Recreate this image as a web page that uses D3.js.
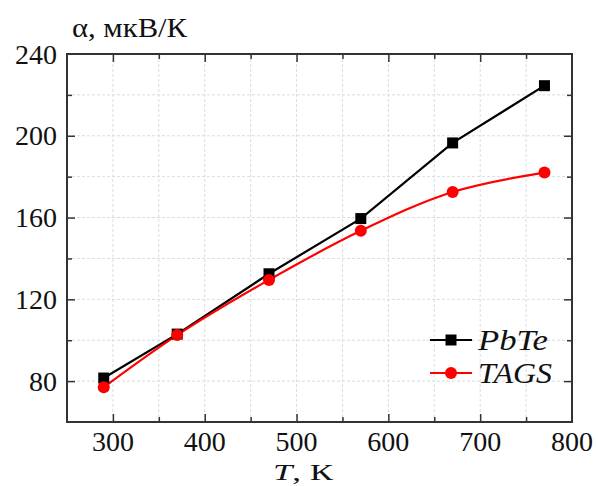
<!DOCTYPE html>
<html><head><meta charset="utf-8">
<script src="https://cdn.jsdelivr.net/npm/d3@7"></script>
<style>body{margin:0;background:#fff}svg{display:block}
text{font-family:"Liberation Serif","Times New Roman","DejaVu Serif",serif}</style>
</head><body>
<svg id="c" width="598" height="486"></svg>
<script>
const temps = [290, 370, 470, 570, 670, 770];
const pbte = [81.5, 103, 132.5, 159.5, 196.5, 224.5];
const tags = [77, 102.5, 129.5, 153.5, 172.5, 182];
const xTicks = [300, 400, 500, 600, 700, 800];
const yTicks = [80, 120, 160, 200, 240];
const seriesNames = ["PbTe", "TAGS"];

const svg = d3.select("#c");
const L = 67, R = 572, T = 54, B = 422;
const x = d3.scaleLinear().domain([250, 800]).range([L, R]);
const y = d3.scaleLinear().domain([60, 240]).range([B, T]);

// grid
const gx = d3.range(300, 800, 50), gy = d3.range(80, 240, 20);
svg.append("g").selectAll("line").data(gx).join("line")
  .attr("x1", d => x(d)).attr("x2", d => x(d)).attr("y1", T).attr("y2", B)
  .attr("stroke", "#dcdcdc").attr("stroke-dasharray", "3,2").attr("stroke-width", 1);
svg.append("g").selectAll("line").data(gy).join("line")
  .attr("y1", d => y(d)).attr("y2", d => y(d)).attr("x1", L).attr("x2", R)
  .attr("stroke", "#dcdcdc").attr("stroke-dasharray", "3,2").attr("stroke-width", 1);

// axes with inward ticks
function ax(axisFn, scale, vals, len, tx, ty) {
  const g = svg.append("g").attr("transform", `translate(${tx},${ty})`)
    .call(axisFn(scale).tickValues(vals).tickSize(len).tickFormat(""));
  g.select(".domain").remove();
  g.selectAll("line").attr("stroke", "#333").attr("stroke-width", 1.5);
}
const xMajor = xTicks.filter(d => d < 800), xMinor = d3.range(350, 800, 100);
const yMajor = yTicks.filter(d => d < 240), yMinor = d3.range(100, 240, 40);
ax(d3.axisTop, x, xMajor, 8, 0, B);
ax(d3.axisTop, x, xMinor, 5, 0, B);
ax(d3.axisBottom, x, xMajor, 8, 0, T);
ax(d3.axisBottom, x, xMinor, 5, 0, T);
ax(d3.axisRight, y, yMajor, 8, L, 0);
ax(d3.axisRight, y, yMinor, 5, L, 0);
ax(d3.axisLeft, y, yMajor, 8, R, 0);
ax(d3.axisLeft, y, yMinor, 5, R, 0);

svg.append("rect").attr("x", L).attr("y", T).attr("width", R - L).attr("height", B - T)
  .attr("fill", "none").attr("stroke", "#333").attr("stroke-width", 2);

// tick labels
svg.append("g").selectAll("text").data(xTicks).join("text")
  .attr("x", d => x(d)).attr("y", 451).attr("text-anchor", "middle")
  .attr("font-size", 28).attr("fill", "#111").text(d => d);
svg.append("g").selectAll("text").data(yTicks).join("text")
  .attr("x", 57).attr("y", d => y(d) + 9.5).attr("text-anchor", "end")
  .attr("font-size", 28).attr("fill", "#111").text(d => d);

// titles
svg.append("text").attr("x", 72).attr("y", 37)
  .attr("font-size", 28).attr("textLength", 115).attr("lengthAdjust", "spacingAndGlyphs")
  .attr("fill", "#111").text("α, мкВ/К");
const xl = svg.append("text").attr("x", 303).attr("y", 480).attr("text-anchor", "middle")
  .attr("font-size", 24).attr("textLength", 60).attr("lengthAdjust", "spacingAndGlyphs")
  .attr("fill", "#111");
xl.append("tspan").attr("font-style", "italic").text("T");
xl.append("tspan").text(", К");

// lines
const lineP = d3.line().x(d => x(d[0])).y(d => y(d[1]));
const lineT = d3.line().x(d => x(d[0])).y(d => y(d[1])).curve(d3.curveCatmullRom.alpha(0.5));
const dP = temps.map((t, i) => [t, pbte[i]]);
const dT = temps.map((t, i) => [t, tags[i]]);
svg.append("path").attr("d", lineP(dP)).attr("fill", "none").attr("stroke", "#000").attr("stroke-width", 2.2);
svg.append("path").attr("d", lineT(dT)).attr("fill", "none").attr("stroke", "#f00").attr("stroke-width", 2.2);
svg.append("g").selectAll("rect").data(dP).join("rect")
  .attr("x", d => x(d[0]) - 5.5).attr("y", d => y(d[1]) - 5.5).attr("width", 11).attr("height", 11).attr("fill", "#000");
svg.append("g").selectAll("circle").data(dT).join("circle")
  .attr("cx", d => x(d[0])).attr("cy", d => y(d[1])).attr("r", 6).attr("fill", "#f00");

// legend
const leg = [{n: seriesNames[0], c: "#000", s: "sq", y: 340, w: 70}, {n: seriesNames[1], c: "#f00", s: "ci", y: 373, w: 74}];
leg.forEach(l => {
  svg.append("line").attr("x1", 430).attr("x2", 472).attr("y1", l.y).attr("y2", l.y)
    .attr("stroke", l.c).attr("stroke-width", 2.2);
  if (l.s === "sq") svg.append("rect").attr("x", 445.5).attr("y", l.y - 5.5).attr("width", 11).attr("height", 11).attr("fill", l.c);
  else svg.append("circle").attr("cx", 451).attr("cy", l.y).attr("r", 6).attr("fill", l.c);
  svg.append("text").attr("x", 478).attr("y", l.y + 10).attr("font-style", "italic")
    .attr("font-size", 29).attr("textLength", l.w).attr("lengthAdjust", "spacingAndGlyphs")
    .attr("fill", "#111").text(l.n);
});
</script>
</body></html>
